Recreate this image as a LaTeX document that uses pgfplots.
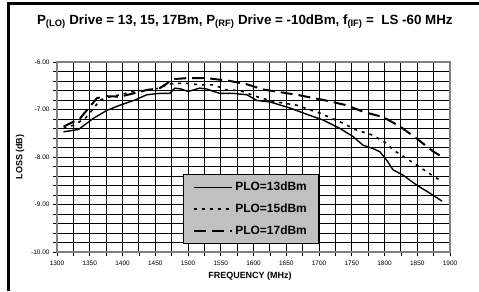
\documentclass[border=0pt]{standalone}
\usepackage{fontspec}
\setmainfont{Liberation Sans}
\usepackage{pgfplots}
\pgfplotsset{compat=1.18}
\definecolor{legfill}{RGB}{192,192,192}
\definecolor{framegray}{RGB}{128,128,128}
\begin{document}
\begin{tikzpicture}[x=1bp,y=1bp]
\useasboundingbox (0,0) rectangle (479,291);
\draw[line width=2.5bp] (8.5,0) -- (8.5,287.5) -- (479,287.5);
\begin{axis}[
  at={(57bp,39bp)}, anchor=south west,
  scale only axis, width=393bp, height=190bp,
  xmin=1300, xmax=1900, ymin=-10, ymax=-6,
  xtick={1300,1350,...,1900},
  minor xtick={1325,1375,...,1875},
  ytick={-10,-9,-8,-7,-6},
  minor y tick num=4,
  grid=both,
  major grid style={black, line width=0.8bp},
  minor grid style={black, line width=0.8bp},
  axis line style={draw=framegray, line width=1.5bp},
  tick align=outside, tick pos=left,
  major tick length=4bp, minor tick length=4bp,
  every tick/.style={black, line width=0.6bp},
  /pgf/number format/assume math mode=true,
  /pgf/number format/1000 sep={},
  xticklabel style={font=\fontsize{6.5}{7}\selectfont, yshift=-1bp},
  yticklabel style={font=\fontsize{6.5}{7}\selectfont, /pgf/number format/.cd, fixed, fixed zerofill, precision=2},
  title={P\textsubscript{(LO)} Drive = 13, 15, 17Bm, P\textsubscript{(RF)} Drive = -10dBm, f\textsubscript{(IF)} =\ \ LS -60 MHz},
  title style={font=\fontsize{13.4}{16}\selectfont\bfseries, at={(rel axis cs:0.478,1)}, anchor=center, yshift=34bp},
  xlabel={FREQUENCY (MHz)},
  xlabel style={font=\fontsize{9}{11}\selectfont\bfseries, at={(rel axis cs:0.491,0)}, anchor=center, yshift=-24bp},
  ylabel={LOSS (dB)},
  ylabel style={font=\fontsize{9}{11}\selectfont\bfseries, at={(rel axis cs:0,0.5)}, anchor=center, yshift=37bp},
  legend style={at={(rel axis cs:0.3206,0.4105)}, anchor=north west, fill=legfill, draw=black, line width=0.8bp,
    font=\fontsize{12}{14}\selectfont\bfseries, inner xsep=10bp, inner ysep=2bp, row sep=0bp,
    nodes={minimum height=21.7bp, inner ysep=0bp}},
  legend cell align=left,
  legend image code/.code={\draw[#1] (0bp,0bp) -- (38bp,0bp);},
]
\addplot[black, line width=1.4bp] coordinates {
(1310,-7.47) (1333,-7.42) (1355,-7.19) (1376,-7.02) (1396,-6.91) (1419,-6.80)
(1437,-6.69) (1457,-6.66) (1472,-6.66) (1480,-6.55) (1490,-6.57) (1500,-6.62)
(1508,-6.59) (1518,-6.55) (1529,-6.57) (1539,-6.62) (1549,-6.66) (1569,-6.66)
(1590,-6.69) (1605,-6.81) (1625,-6.84) (1656,-6.97) (1681,-7.10) (1706,-7.22)
(1732,-7.40) (1752,-7.57) (1767,-7.75) (1782,-7.82) (1793,-7.89) (1803,-8.06)
(1813,-8.27) (1828,-8.38) (1849,-8.59) (1869,-8.76) (1888,-8.93)
};
\addlegendentry{PLO=13dBm}
\addplot[black, line width=1.6bp, dash pattern=on 3bp off 5bp] coordinates {
(1310,-7.40) (1325,-7.33) (1343,-7.19) (1366,-6.80) (1381,-6.73) (1396,-6.69)
(1417,-6.62) (1437,-6.59) (1457,-6.55) (1467,-6.48) (1478,-6.45) (1498,-6.45)
(1518,-6.48) (1539,-6.48) (1559,-6.59) (1579,-6.60) (1605,-6.73) (1630,-6.83)
(1666,-6.91) (1702,-7.08) (1732,-7.26) (1757,-7.43) (1782,-7.54) (1803,-7.71)
(1813,-7.85) (1829,-7.99) (1849,-8.17) (1880,-8.45) (1888,-8.50)
};
\addlegendentry{PLO=15dBm}
\addplot[black, line width=2bp, dash pattern=on 12bp off 6bp] coordinates {
(1310,-7.36) (1335,-7.19) (1361,-6.76) (1376,-6.72) (1396,-6.73) (1417,-6.66)
(1437,-6.59) (1457,-6.55) (1478,-6.36) (1498,-6.34) (1529,-6.34) (1564,-6.40)
(1590,-6.47) (1615,-6.58) (1666,-6.69) (1707,-6.80) (1742,-6.91) (1768,-7.05)
(1798,-7.16) (1824,-7.36) (1849,-7.61) (1875,-7.89) (1890,-8.01)
};
\addlegendentry{PLO=17dBm}
\end{axis}
\end{tikzpicture}
\end{document}
